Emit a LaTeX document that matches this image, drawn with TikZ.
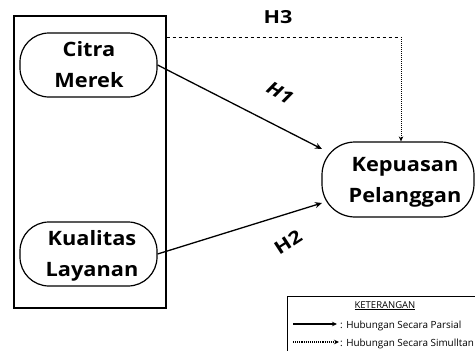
\documentclass[tikz,border=0pt]{standalone}
\usepackage{fontspec}
\setmainfont{Open Sans}
\newfontfamily\bigfont[FakeStretch=1.1]{Open Sans}
\newfontfamily\hfont[FakeStretch=1.2]{Open Sans}
\usetikzlibrary{arrows.meta}
\begin{document}
\begin{tikzpicture}[x=1pt,y=-1pt,
  pill/.style={draw,line width=1.2pt,rounded corners=29pt,inner sep=0pt},
  big/.style={font=\bigfont\fontsize{19.8}{31}\selectfont\bfseries,align=center,inner sep=0pt},
  conn/.style={line width=1.3pt,-{Stealth[length=7pt,width=6pt]}},
  hlab/.style={font=\hfont\fontsize{18}{20}\selectfont\bfseries,inner sep=0pt},
  leg/.style={font=\fontsize{9.9}{11}\selectfont,inner sep=0pt,anchor=base west}]
\useasboundingbox (0,0) rectangle (475,351);
\clip (0,0) rectangle (475,351);
% group rectangle
\node[draw,line width=1.2pt,minimum width=152pt,minimum height=292pt,inner sep=0pt] (grp) at (90,162) {};
% pills
\node[pill,minimum width=137pt,minimum height=64pt] (cm) at (88.5,65) {};
\node[pill,minimum width=137pt,minimum height=64pt] (kl) at (88.5,254) {};
\node[pill,rounded corners=33pt,minimum width=152pt,minimum height=75pt] (kp) at (398,179.5) {};
% texts
\node[big] (cmt) at (89,64.5) {Citra\\Merek};
\node[big] (klt) at (92,255.5) {Kualitas\\Layanan};
\node[big] (kpt) at (405,182) {Kepuasan\\Pelanggan};
% connectors
\coordinate (t1) at (322,149);
\coordinate (t2) at (322,203);
\draw[conn] (cm.east) -- (t1);
\draw[conn] (kl.east) -- (t2);
\coordinate (h3a) at (grp.east |- 0,37);
\coordinate (h3b) at (401,37);
\draw[line width=1pt,dashed] (h3a) -- (h3b);
\draw[line width=1pt,densely dotted,-{Stealth[length=5pt,width=4.5pt]}] (h3b) -- (h3b |- kp.north);
% hypothesis labels
\node[hlab] (h1) at (280,93) [rotate=-30] {\itshape H1};
\node[hlab] (h2) at (288,242) [rotate=33] {H2};
\node[hlab] (h3) at (278,17) {H3};
% legend
\draw[line width=0.9pt] (287,370) |- (490,296);
\node[font=\fontsize{9.5}{11}\selectfont,inner sep=0pt,anchor=base] (kt) at (385,308) {\underline{KETERANGAN}};
\coordinate (l1a) at (293,324);
\coordinate (l1b) at (337,324);
\coordinate (l2a) at (293,342);
\coordinate (l2b) at (339,342);
\draw[line width=1.1pt,-{Stealth[length=5pt,width=4.5pt]}] (l1a) -- (l1b);
\draw[line width=1.1pt,densely dotted,-{Stealth[length=5pt,width=4.5pt]}] (l2a) -- (l2b);
\node[leg] (lt1) at (340,328) {: Hubungan Secara Parsial};
\node[leg] (lt2) at (340,346) {: Hubungan Secara Simulltan};
\end{tikzpicture}
\end{document}
